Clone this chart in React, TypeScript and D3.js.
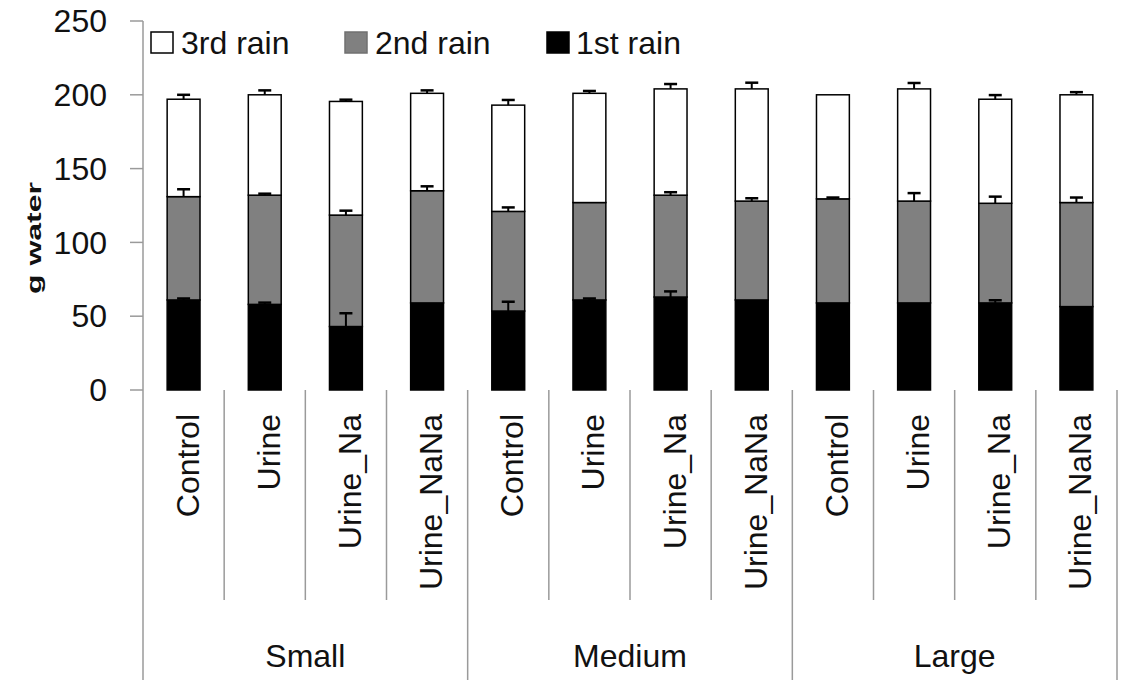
import React from "react";
import * as d3 from "d3";

const groups = ["Small", "Medium", "Large"];
const treatments = ["Control", "Urine", "Urine_Na", "Urine_NaNa"];
const yTicks = [0, 50, 100, 150, 200, 250];

const rain1 = [61, 58, 43, 59, 53.5, 61, 63, 61, 59, 59, 59, 56.5];
const rain2 = [70, 74, 75.5, 76, 67.5, 66, 69, 67, 70.5, 69, 67.5, 70.5];
const rain3 = [66, 68, 77, 66, 72, 74, 72, 76, 70.5, 76, 70.5, 73];

const err1 = [1, 1.2, 9, 0, 6.3, 1, 3.8, 0, 0, 0, 1.8, 0];
const err2 = [5, 1, 3, 3, 2.7, 0, 2, 1.9, 0.9, 5.4, 4.5, 3.4];
const err3 = [3, 3, 1.2, 2, 3.5, 1.6, 3.3, 4.2, 0, 4, 2.8, 1.8];

const seriesNames = ["1st rain", "2nd rain", "3rd rain"];
const seriesColors = ["#000000", "#808080", "#ffffff"];

const W = 1124;
const H = 680;
const FONT = "'Liberation Sans', Arial, sans-serif";

export default function App() {
  const cats = groups.flatMap((g) => treatments.map((t) => `${g}|${t}`));
  const rows = cats.map((c, i) => ({
    cat: c,
    r1: rain1[i],
    r2: rain2[i],
    r3: rain3[i],
  }));
  const keys = ["r1", "r2", "r3"];
  const errs = [err1, err2, err3];
  const stacked = d3.stack<any>().keys(keys)(rows);

  const y = d3.scaleLinear().domain([0, 250]).range([390, 21]);
  const x = d3.scaleBand<string>().domain(cats).range([143, 1117]).padding(0);
  const bw = x.bandwidth() * 0.405;
  const gx = d3
    .scaleBand<string>()
    .domain(groups)
    .range([143, 1117])
    .padding(0);

  const axisColor = "#9a9a9a";

  // legend order: 3rd, 2nd, 1st
  const legendItems = [
    { name: seriesNames[2], color: seriesColors[2], bx: 151, tx: 181 },
    { name: seriesNames[1], color: seriesColors[1], bx: 345, tx: 375 },
    { name: seriesNames[0], color: seriesColors[0], bx: 547, tx: 576 },
  ];

  return (
    <svg
      width={W}
      height={H}
      style={{ position: "absolute", left: 0, top: 0, display: "block", background: "#fff" }}
      fontFamily={FONT}
    >
      <rect x={0} y={0} width={W} height={H} fill="#ffffff" />

      {/* y axis */}
      <line x1={143} x2={143} y1={y(250)} y2={H} stroke={axisColor} strokeWidth={1.5} />
      {yTicks.map((t) => (
        <g key={t}>
          <line x1={130} x2={143} y1={y(t)} y2={y(t)} stroke={axisColor} strokeWidth={1.5} />
          <text
            x={107}
            y={y(t)}
            dy="0.35em"
            textAnchor="end"
            fontSize={32}
            fill="#111"
          >
            {t}
          </text>
        </g>
      ))}

      {/* y title */}
      <text
        transform={`translate(41, 238) rotate(-90) scale(1.6, 1)`}
        textAnchor="middle"
        fontSize={20}
        fontWeight="bold"
        fill="#111"
      >
        g water
      </text>

      {/* bars */}
      {stacked.map((s, si) => (
        <g key={s.key}>
          {s.map((d, i) => (
            <rect
              key={i}
              x={(x(cats[i]) as number) + x.bandwidth() / 2 - bw / 2}
              y={y(d[1])}
              width={bw}
              height={y(d[0]) - y(d[1])}
              fill={seriesColors[si]}
              stroke="#000"
              strokeWidth={1.5}
            />
          ))}
        </g>
      ))}

      {/* error bars */}
      {stacked.map((s, si) => (
        <g key={"e" + s.key}>
          {s.map((d, i) => {
            const e = errs[si][i];
            if (!e) return null;
            const cx = (x(cats[i]) as number) + x.bandwidth() / 2;
            return (
              <g key={i} stroke="#000">
                <line x1={cx} x2={cx} y1={y(d[1])} y2={y(d[1] + e)} strokeWidth={2} />
                <line x1={cx - 6.5} x2={cx + 6.5} y1={y(d[1] + e)} y2={y(d[1] + e)} strokeWidth={2.5} />
              </g>
            );
          })}
        </g>
      ))}

      {/* category separators */}
      {cats.map((c, i) => {
        if (i % treatments.length === 0) return null;
        const xx = x(c) as number;
        return (
          <line key={"s" + i} x1={xx} x2={xx} y1={390} y2={600} stroke={axisColor} strokeWidth={1.5} />
        );
      })}
      {groups.map((g) => {
        const xx = (gx(g) as number) + gx.bandwidth();
        return (
          <line key={"gs" + g} x1={xx} x2={xx} y1={390} y2={H} stroke={axisColor} strokeWidth={1.5} />
        );
      })}

      {/* category labels */}
      {cats.map((c, i) => {
        const cx = (x(c) as number) + x.bandwidth() / 2 + 15;
        return (
          <text
            key={"l" + i}
            transform={`translate(${cx}, 414) rotate(-90)`}
            textAnchor="end"
            fontSize={32}
            fill="#111"
          >
            {treatments[i % treatments.length]}
          </text>
        );
      })}

      {/* group labels */}
      {groups.map((g) => (
        <text
          key={"g" + g}
          x={(gx(g) as number) + gx.bandwidth() / 2}
          y={667}
          textAnchor="middle"
          fontSize={32}
          fill="#111"
        >
          {g}
        </text>
      ))}

      {/* legend */}
      {legendItems.map((l) => (
        <g key={l.name}>
          <rect
            x={l.bx}
            y={32}
            width={22}
            height={21}
            fill={l.color}
            stroke={l.color === "#808080" ? "#707070" : "#000"}
            strokeWidth={1.5}
          />
          <text x={l.tx} y={54} fontSize={32} fill="#111">
            {l.name}
          </text>
        </g>
      ))}
    </svg>
  );
}
